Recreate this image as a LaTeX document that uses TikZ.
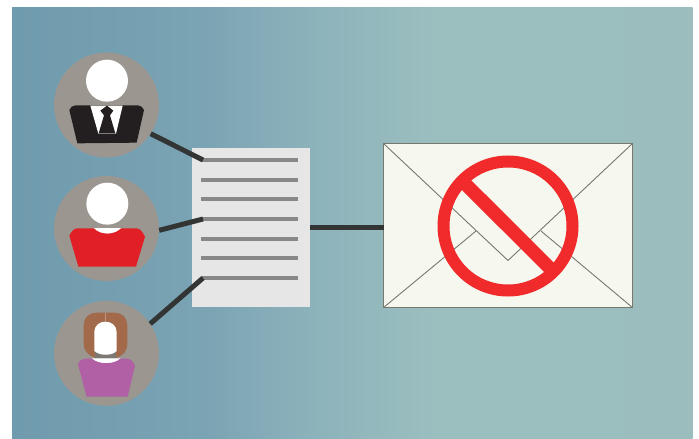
\documentclass[tikz,border=0pt]{standalone}
\definecolor{discgray}{HTML}{9B9690}
\definecolor{suit}{HTML}{231F20}
\definecolor{redshirt}{HTML}{E02026}
\definecolor{purpleshirt}{HTML}{B160A6}
\definecolor{hair}{HTML}{A26A4B}
\definecolor{wire}{HTML}{333535}
\definecolor{docfill}{HTML}{E6E6E6}
\definecolor{docline}{HTML}{888888}
\definecolor{envfill}{HTML}{F6F7EE}
\definecolor{envline}{HTML}{77786F}
\definecolor{banred}{HTML}{F12B2C}
\pgfdeclarehorizontalshading{bgshade}{100bp}{
  rgb(0bp)=(0.435,0.608,0.682);
  rgb(25bp)=(0.435,0.608,0.682);
  rgb(39bp)=(0.480,0.640,0.702);
  rgb(47bp)=(0.549,0.698,0.733);
  rgb(56bp)=(0.608,0.749,0.749);
  rgb(75bp)=(0.608,0.741,0.745);
  rgb(100bp)=(0.608,0.741,0.745)}
\tikzset{
  disc/.style={circle,fill=discgray,minimum size=105pt,inner sep=0pt},
  wireline/.style={draw=wire,line width=5pt},
  textline/.style={draw=docline,line width=4pt},
  flap/.style={draw=envline,line width=0.9pt},
  head/.style={fill=white},
  zoomed/.style={x=0.33333pt,y=-0.33333pt}
}
\begin{document}
\begin{tikzpicture}[x=1pt,y=-1pt]
\useasboundingbox (0,0) rectangle (699,439);
\shade[shading=bgshade] (12,7) rectangle (692.5,439);

\node[disc] (p1) at (106.5,105) {};
\node[disc] (p2) at (106.5,228.5) {};
\node[disc] (p3) at (106.5,353.3) {};
\node[fill=docfill,minimum width=118pt,minimum height=159pt,inner sep=0pt] (doc) at (251,227.5) {};
\node[fill=envfill,draw=envline,line width=0.7pt,minimum width=249pt,minimum height=164pt,inner sep=0pt] (env) at (508,225.5) {};

\foreach \yy in {160,180,199,219,239,258,278}
  \draw[textline] (201,\yy) -- (298,\yy);

\coordinate (d1) at (203,160);
\coordinate (d2) at (203,219);
\coordinate (d3) at (203,278);
\coordinate (d4) at (310,227);
\coordinate (e4) at (384,227);
\draw[wireline] (p1.-33.7) -- (d1);
\draw[wireline] (p2.-2) -- (d2);
\draw[wireline] (p3.34.6) -- (d3);
\draw[wireline] (d4) -- (e4);

% person 1
\begin{scope}[shift={(40,40)},zoomed]
  \fill[head] (201,122) circle (63);
  \fill[suit] (88,210) .. controls (92,202) and (96,197) .. (106,196) -- (294,196) .. controls (304,197) and (308,202) .. (312,210) -- (290,308) -- (112,310) -- cycle;
  \fill[white] (151,197) -- (248,197) -- (228,281) -- (175,281) -- cycle;
  \fill[suit] (181,212) -- (201,197) -- (220,212) -- (210,226) -- (226,280) -- (176,280) -- (192,226) -- cycle;
\end{scope}

% person 2
\begin{scope}[shift={(40,170)},zoomed]
  \fill[head] (202,101) circle (63);
  \fill[head] (160,174) .. controls (178,198) and (226,198) .. (245,174) -- cycle;
  \fill[redshirt] (88,197) .. controls (94,185) and (100,176) .. (112,175) -- (162,175) .. controls (180,196) and (224,196) .. (243,175) -- (290,175) .. controls (302,176) and (308,187) .. (315,200) -- (288,290) -- (115,290) -- cycle;
\end{scope}

% person 3
\begin{scope}[shift={(40,295)},zoomed]
  \fill[hair] (131,95) .. controls (131,65) and (148,53) .. (172,53) -- (222,53) .. controls (248,53) and (262,68) .. (262,95) -- (262,145) .. controls (262,170) and (250,180) .. (230,188) -- (165,188) .. controls (145,180) and (131,170) .. (131,145) -- cycle;
  \draw[line width=0.5pt,draw=hair!70!white] (196,53) -- (196,78);
  \fill[discgray!80!black] (165,172) -- (228,172) -- (228,188) -- (165,188) -- cycle;
  \fill[head] (163,112) .. controls (163,90) and (180,80) .. (196,80) .. controls (215,80) and (230,92) .. (230,112) -- (230,168) .. controls (215,183) and (180,183) .. (163,168) -- cycle;
  \fill[head] (155,190) .. controls (175,212) and (222,212) .. (242,190) -- cycle;
  \fill[purpleshirt] (114,208) .. controls (118,198) and (124,192) .. (134,191) -- (156,191) .. controls (175,209) and (222,209) .. (241,191) -- (262,191) .. controls (274,192) and (280,202) .. (285,212) -- (263,305) -- (140,305) -- cycle;
\end{scope}

\coordinate (a) at (508,260.5);
\coordinate (f1) at (476,231);
\coordinate (f2) at (541,231);
\draw[flap] (env.north west) -- (a) -- (env.north east);
\draw[flap] (env.south west) -- (f1);
\draw[flap] (env.south east) -- (f2);

\coordinate (c) at (508,226);
\draw[draw=banred,line width=12pt] (c) circle (64.5);
\coordinate (b1) at (466,184.6);
\coordinate (b2) at (549.4,267.7);
\draw[draw=banred,line width=13.5pt] (b1) -- (b2);
\end{tikzpicture}
\end{document}
